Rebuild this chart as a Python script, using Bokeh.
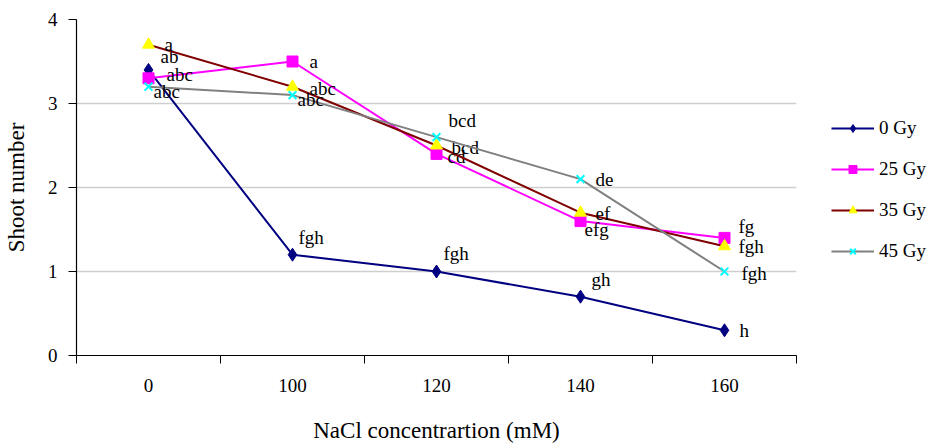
from bokeh.plotting import figure
from bokeh.models import (FixedTicker, Legend, LegendItem, ColumnDataSource)
from bokeh.core.properties import value
from bokeh.embed import file_html
from bokeh.resources import INLINE

categories = ["0", "100", "120", "140", "160"]
series_names = ["0 Gy", "25 Gy", "35 Gy", "45 Gy"]
gy0 = [3.4, 1.2, 1.0, 0.7, 0.3]
gy25 = [3.3, 3.5, 2.4, 1.6, 1.4]
gy35 = [3.7, 3.2, 2.5, 1.7, 1.3]
gy45 = [3.2, 3.1, 2.6, 2.1, 1.0]
lab0 = ["ab", "fgh", "fgh", "gh", "h"]
lab25 = ["abc", "a", "cd", "efg", "fg"]
lab35 = ["a", "abc", "bcd", "ef", "fgh"]
lab45 = ["abc", "abc", "bcd", "de", "fgh"]
yticks = [0, 1, 2, 3, 4]

FONT = "Liberation Serif"
xs = list(range(len(categories)))

p = figure(width=916, height=436, output_backend="svg", toolbar_location=None,
           x_range=(-0.5, len(categories) - 0.5), y_range=(0, 4),
           frame_width=720, frame_height=336,
           min_border_left=73, min_border_right=128, min_border_top=19, min_border_bottom=81)
p.outline_line_color = None
p.background_fill_color = "white"
p.border_fill_color = "white"

# axes
p.xaxis.ticker = FixedTicker(ticks=xs, minor_ticks=[i - 0.5 for i in range(len(categories) + 1)])
p.xaxis.major_label_overrides = {i: c for i, c in enumerate(categories)}
p.xaxis.major_tick_out = 0
p.xaxis.major_tick_in = 0
p.xaxis.minor_tick_out = 8
p.xaxis.minor_tick_in = 0
p.xaxis.minor_tick_line_color = "black"
p.xaxis.major_label_standoff = 15
p.xaxis.axis_label = "NaCl concentrartion (mM)"
p.xaxis.axis_label_standoff = 23

p.yaxis.ticker = FixedTicker(ticks=yticks)
p.yaxis.major_tick_out = 8
p.yaxis.major_tick_in = 0
p.yaxis.minor_tick_line_color = None
p.yaxis.major_label_standoff = 11
p.yaxis.axis_label = "Shoot number"
p.yaxis.axis_label_standoff = 16

for ax in (p.xaxis, p.yaxis):
    ax.axis_line_color = "black"
    ax.axis_line_width = 1.2
    ax.major_tick_line_color = "black"
    ax.major_label_text_font = FONT
    ax.major_label_text_font_size = "19px"
    ax.major_label_text_color = "black"
    ax.axis_label_text_font = FONT
    ax.axis_label_text_font_size = "23px"
    ax.axis_label_text_font_style = "normal"
    ax.axis_label_text_color = "black"

p.xgrid.grid_line_color = None
p.ygrid.ticker = FixedTicker(ticks=yticks[1:])
p.ygrid.grid_line_color = "#cfcfcf"
p.ygrid.grid_line_width = 1.5

styles = [
    dict(data=gy0, labels=lab0, line="#000080", marker="diamond", fill="#000080", mline="#000080", size=13,
         dx=[12, 6, 7, 11, 15], dy=[-13, -17, -18, -17, 0]),
    dict(data=gy25, labels=lab25, line="#FF00FF", marker="square", fill="#FF00FF", mline="#FF00FF", size=11,
         dx=[18, 17, 11, 4, 14], dy=[-4, 0, 3, 8, -11]),
    dict(data=gy35, labels=lab35, line="#800000", marker="triangle", fill="#FFFF00", mline="#FFFF00", size=12,
         dx=[16, 17, 15, 15, 14], dy=[0, 2, 2, 1, 0]),
    dict(data=gy45, labels=lab45, line="#808080", marker="x", fill="#00FFFF", mline="#00FFFF", size=11,
         dx=[5, 5, 12, 15, 17], dy=[5, 4, -17, 0, 2]),
]

items = []
for name, st in zip(series_names, styles):
    src = ColumnDataSource(dict(x=xs, y=st["data"], lab=st["labels"], dx=st["dx"], dy=st["dy"]))
    ln = p.line("x", "y", source=src, line_color=st["line"], line_width=2)
    sc = p.scatter("x", "y", source=src, marker=st["marker"], size=st["size"],
                   fill_color=st["fill"], line_color=st["mline"], line_width=2 if st["marker"] == "x" else 1)
    items.append(LegendItem(label=name, renderers=[ln, sc]))
    p.text("x", "y", text="lab", source=src, x_offset="dx", y_offset="dy",
           text_font=value(FONT), text_font_size="19px", text_color="black",
           text_align="left", text_baseline="middle")

legend = Legend(items=items, location=(35, 93), orientation="vertical",
                label_text_font=FONT, label_text_font_size="19px", label_text_color="black",
                glyph_width=43, glyph_height=20, label_height=20, spacing=19,
                label_standoff=5, padding=0, margin=0,
                border_line_color=None, background_fill_alpha=0)
p.add_layout(legend, "right")

open("out.html", "w").write(file_html(p, INLINE))
